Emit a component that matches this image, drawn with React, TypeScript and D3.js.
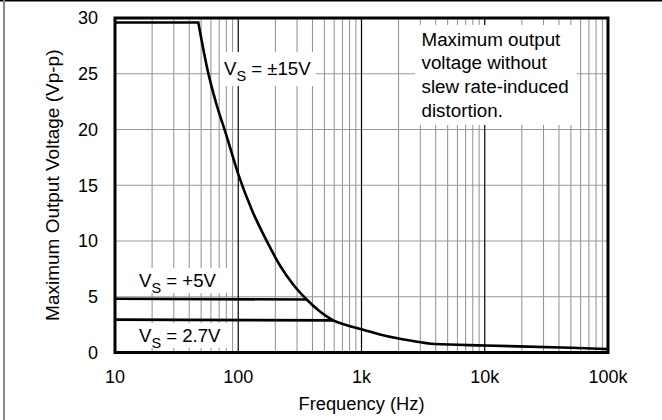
import React from 'react';
import * as d3 from 'd3';

const xTickValues = [10, 100, 1000, 10000, 100000];
const xTickLabels = ['10', '100', '1k', '10k', '100k'];
const yTickValues = [0, 5, 10, 15, 20, 25, 30];

// ±15V curve
const vs15Freq = [10, 47.4, 57, 66, 80, 100, 130, 173, 218, 280, 359, 450, 590, 760, 1000, 1410, 2000, 2470, 3940, 10000, 50000, 100000];
const vs15Volt = [29.6, 29.6, 25.1, 22.4, 19.5, 16.0, 12.7, 9.85, 7.8, 6.07, 4.75, 3.76, 2.88, 2.45, 2.08, 1.62, 1.25, 1.07, 0.76, 0.63, 0.42, 0.3];
// +5V
const vs5Freq = [10, 359];
const vs5Volt = [4.82, 4.75];
// 2.7V
const vs27Freq = [10, 590];
const vs27Volt = [2.95, 2.88];

const annotationLines = ['Maximum output', 'voltage without', 'slew rate-induced', 'distortion.'];

const FONT = 'Liberation Sans, Arial, sans-serif';

export default function App() {
  const W = 662, H = 420;
  const x = d3.scaleLog().domain([10, 100000]).range([115, 608]);
  const y = d3.scaleLinear().domain([0, 30]).range([352.5, 18]);

  const minorX: number[] = [];
  for (let d = 10; d < 100000; d *= 10) {
    for (let k = 2; k <= 9; k++) minorX.push(d * k);
  }
  const majorX = xTickValues.slice(1, -1);

  const curvePts: [number, number][] = vs15Freq.map((f, i) => [f, vs15Volt[i]]);
  const flat = curvePts.slice(0, 2);
  const falling = curvePts.slice(1);
  const lineLin = d3.line<[number, number]>().x(d => x(d[0])).y(d => y(d[1]));
  const lineCurve = d3.line<[number, number]>().x(d => x(d[0])).y(d => y(d[1])).curve(d3.curveMonotoneX);
  const path15 = (lineLin(flat) || '') + (lineCurve(falling) || '').replace(/^M/, 'L');
  const path5 = lineLin(vs5Freq.map((f, i) => [f, vs5Volt[i]]) as [number, number][]) || '';
  const path27 = lineLin(vs27Freq.map((f, i) => [f, vs27Volt[i]]) as [number, number][]) || '';

  const [x0, x1] = x.range();
  const [y0, y1] = y.range();

  return (
    <svg width={W} height={H} style={{ position: 'absolute', left: 0, top: 0, background: '#fff' }} fontFamily={FONT}>
      <rect x={0} y={0} width={W} height={H} fill="#fff" />
      {/* outer frame fragments */}
      <line x1={0} x2={W} y1={0.75} y2={0.75} stroke="#000" strokeWidth={1.5} />
      <line x1={4} x2={4} y1={0} y2={H} stroke="#888" strokeWidth={2} />

      {/* grid */}
      {minorX.map(v => (
        <line key={'mx' + v} x1={x(v)} x2={x(v)} y1={y1} y2={y0} stroke="#8f8f8f" strokeWidth={1} />
      ))}
      {yTickValues.slice(1, -1).map(v => (
        <line key={'gy' + v} x1={x0} x2={x1} y1={y(v)} y2={y(v)} stroke="#999" strokeWidth={1} />
      ))}
      {majorX.map(v => (
        <line key={'Mx' + v} x1={x(v)} x2={x(v)} y1={y1} y2={y0} stroke="#000" strokeWidth={1.2} />
      ))}

      {/* label background boxes */}
      <rect x={220} y={52} width={96} height={34} fill="#fff" />
      <rect x={415} y={25} width={162} height={100} fill="#fff" />
      <rect x={135} y={268} width={92} height={25} fill="#fff" />
      <rect x={135} y={323} width={92} height={25} fill="#fff" />

      {/* series */}
      <path d={path15} fill="none" stroke="#000" strokeWidth={2.6} strokeLinejoin="miter" />
      <path d={path5} fill="none" stroke="#000" strokeWidth={2.6} />
      <path d={path27} fill="none" stroke="#000" strokeWidth={2.6} />

      {/* frame */}
      <rect x={x0} y={y1} width={x1 - x0} height={y0 - y1} fill="none" stroke="#000" strokeWidth={3} />

      {/* labels */}
      <text x={224} y={75} fontSize={18.6} fill="#000">
        V<tspan fontSize={14.5} dy={6}>S</tspan><tspan dy={-6}> = ±15V</tspan>
      </text>
      <text x={139} y={287} fontSize={18.6} fill="#000">
        V<tspan fontSize={14.5} dy={6}>S</tspan><tspan dy={-6}> = +5V</tspan>
      </text>
      <text x={139} y={342} fontSize={18.6} fill="#000">
        V<tspan fontSize={14.5} dy={6}>S</tspan><tspan dy={-6}> = 2.7V</tspan>
      </text>
      {annotationLines.map((t, i) => (
        <text key={t} x={421.5} y={45.7 + i * 23.7} fontSize={18.8} fill="#000">{t}</text>
      ))}

      {/* ticks */}
      {xTickValues.map((v, i) => (
        <text key={'xt' + v} x={x(v)} y={383} fontSize={18} textAnchor="middle" fill="#000">{xTickLabels[i]}</text>
      ))}
      {yTickValues.map(v => (
        <text key={'yt' + v} x={98} y={y(v)} dy="0.36em" fontSize={18} textAnchor="end" fill="#000">{v}</text>
      ))}

      {/* axis titles */}
      <text x={(x0 + x1) / 2} y={410} fontSize={18.3} textAnchor="middle" fill="#000">Frequency (Hz)</text>
      <text transform={`translate(59,${(y0 + y1) / 2}) rotate(-90)`} fontSize={19} textAnchor="middle" fill="#000">Maximum Output Voltage (Vp-p)</text>
    </svg>
  );
}
